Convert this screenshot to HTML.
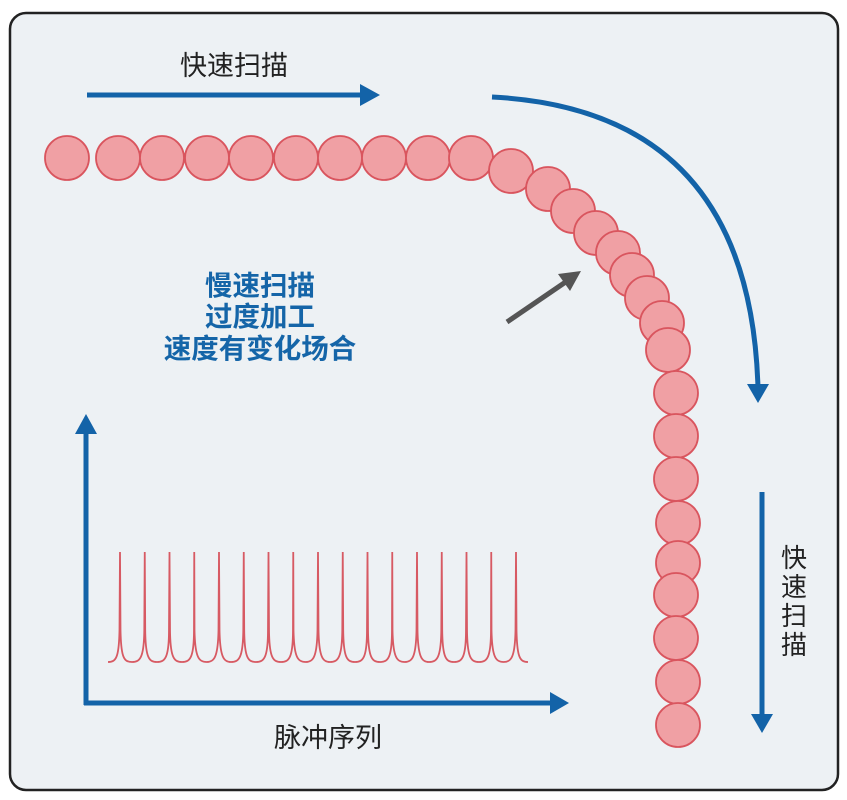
<!DOCTYPE html>
<html><head><meta charset="utf-8"><style>
html,body{margin:0;padding:0;background:#fff;}
svg{display:block;}
</style></head><body>
<svg width="847" height="800" viewBox="0 0 847 800" xmlns="http://www.w3.org/2000/svg">
<rect x="10" y="13" width="828" height="777" rx="16" fill="#edf1f4" stroke="#222" stroke-width="2.5"/>
<g fill="#f0a0a4" stroke="#d9555e" stroke-width="1.8">
<circle cx="67" cy="158" r="22"/><circle cx="118" cy="158" r="22"/><circle cx="162" cy="158" r="22"/>
<circle cx="207" cy="158" r="22"/><circle cx="251" cy="158" r="22"/><circle cx="296" cy="158" r="22"/>
<circle cx="340" cy="158" r="22"/><circle cx="384" cy="158" r="22"/><circle cx="428" cy="158" r="22"/>
<circle cx="471" cy="158" r="22"/><circle cx="511" cy="171" r="22"/><circle cx="548" cy="189" r="22"/>
<circle cx="573" cy="211" r="22"/><circle cx="596" cy="233" r="22"/><circle cx="618" cy="253" r="22"/>
<circle cx="632" cy="275" r="22"/><circle cx="647" cy="298" r="22"/><circle cx="662" cy="323" r="22"/>
<circle cx="668" cy="350" r="22"/><circle cx="676" cy="393" r="22"/><circle cx="676" cy="436" r="22"/>
<circle cx="676" cy="479" r="22"/><circle cx="678" cy="523" r="22"/><circle cx="678" cy="563" r="22"/>
<circle cx="676" cy="595" r="22"/><circle cx="676" cy="638" r="22"/><circle cx="678" cy="682" r="22"/>
<circle cx="678" cy="725" r="22"/>
</g>
<g stroke="#1363a8" stroke-width="5" fill="none">
<line x1="87" y1="95" x2="362" y2="95"/>
<path d="M492 97 Q750 110 758 388"/>
<line x1="762" y1="492" x2="762" y2="716"/>
<line x1="86" y1="705" x2="86" y2="432"/>
<line x1="84" y1="703" x2="552" y2="703"/>
</g>
<g fill="#1363a8">
<polygon points="360,84 380,95 360,106"/>
<polygon points="747,384 769,384 758,403"/>
<polygon points="751,714 773,714 762,733"/>
<polygon points="75,434 97,434 86,414"/>
<polygon points="550,692 550,714 569,703"/>
</g>
<line x1="507" y1="322" x2="570" y2="279" stroke="#555" stroke-width="5"/>
<polygon points="581,271 558,274 570,291" fill="#555"/>
<path fill="none" stroke="#d75a63" stroke-width="1.8" d="
M108 662 C116 662 119 658 119.5 630 L120 552 L120.5 630 C121 658 124 662 132 662
C140 662 144 658 144.3 630 L144.75 552 L145.2 630 C145.5 658 149 662 157 662
C165 662 169 658 169 630 L169.5 552 L170 630 C170.3 658 174 662 182 662
C190 662 194 658 194 630 L194.25 552 L194.5 630 C195 658 199 662 206.6 662
C214 662 218 658 218.5 630 L219 552 L219.5 630 C220 658 224 662 231 662
C239 662 243 658 243.3 630 L243.75 552 L244.2 630 C244.5 658 248 662 256 662
C264 662 268 658 268 630 L268.5 552 L269 630 C269.3 658 273 662 281 662
C289 662 293 658 293 630 L293.25 552 L293.5 630 C294 658 298 662 305.6 662
C313 662 317 658 317.5 630 L318 552 L318.5 630 C319 658 323 662 330 662
C338 662 342 658 342.3 630 L342.75 552 L343.2 630 C343.5 658 347 662 355 662
C363 662 367 658 367 630 L367.5 552 L368 630 C368.3 658 372 662 380 662
C388 662 392 658 392 630 L392.25 552 L392.5 630 C393 658 397 662 404.6 662
C412 662 416 658 416.5 630 L417 552 L417.5 630 C418 658 422 662 429 662
C437 662 441 658 441.3 630 L441.75 552 L442.2 630 C442.5 658 446 662 454 662
C462 662 466 658 466 630 L466.5 552 L467 630 C467.3 658 471 662 479 662
C487 662 491 658 491 630 L491.25 552 L491.5 630 C492 658 496 662 503.6 662
C511 662 515 658 515.5 630 L516 552 L516.5 630 C517 658 520 662 528 662"/>
<g font-family="'Liberation Sans','Noto Sans CJK SC',sans-serif">
<text x="234" y="75" font-size="27" fill="#222" text-anchor="middle">快速扫描</text>
<text x="328" y="747" font-size="27" fill="#222" text-anchor="middle">脉冲序列</text>
<g font-size="26" fill="#222" text-anchor="middle">
<text x="794" y="567">快</text><text x="794" y="596">速</text><text x="794" y="625">扫</text><text x="794" y="654">描</text>
</g>
<g font-size="27.5" font-weight="bold" fill="#1565a8" text-anchor="middle">
<text x="260" y="295">慢速扫描</text>
<text x="260" y="326">过度加工</text>
<text x="260" y="358">速度有变化场合</text>
</g>
</g>
</svg>
</body></html>
